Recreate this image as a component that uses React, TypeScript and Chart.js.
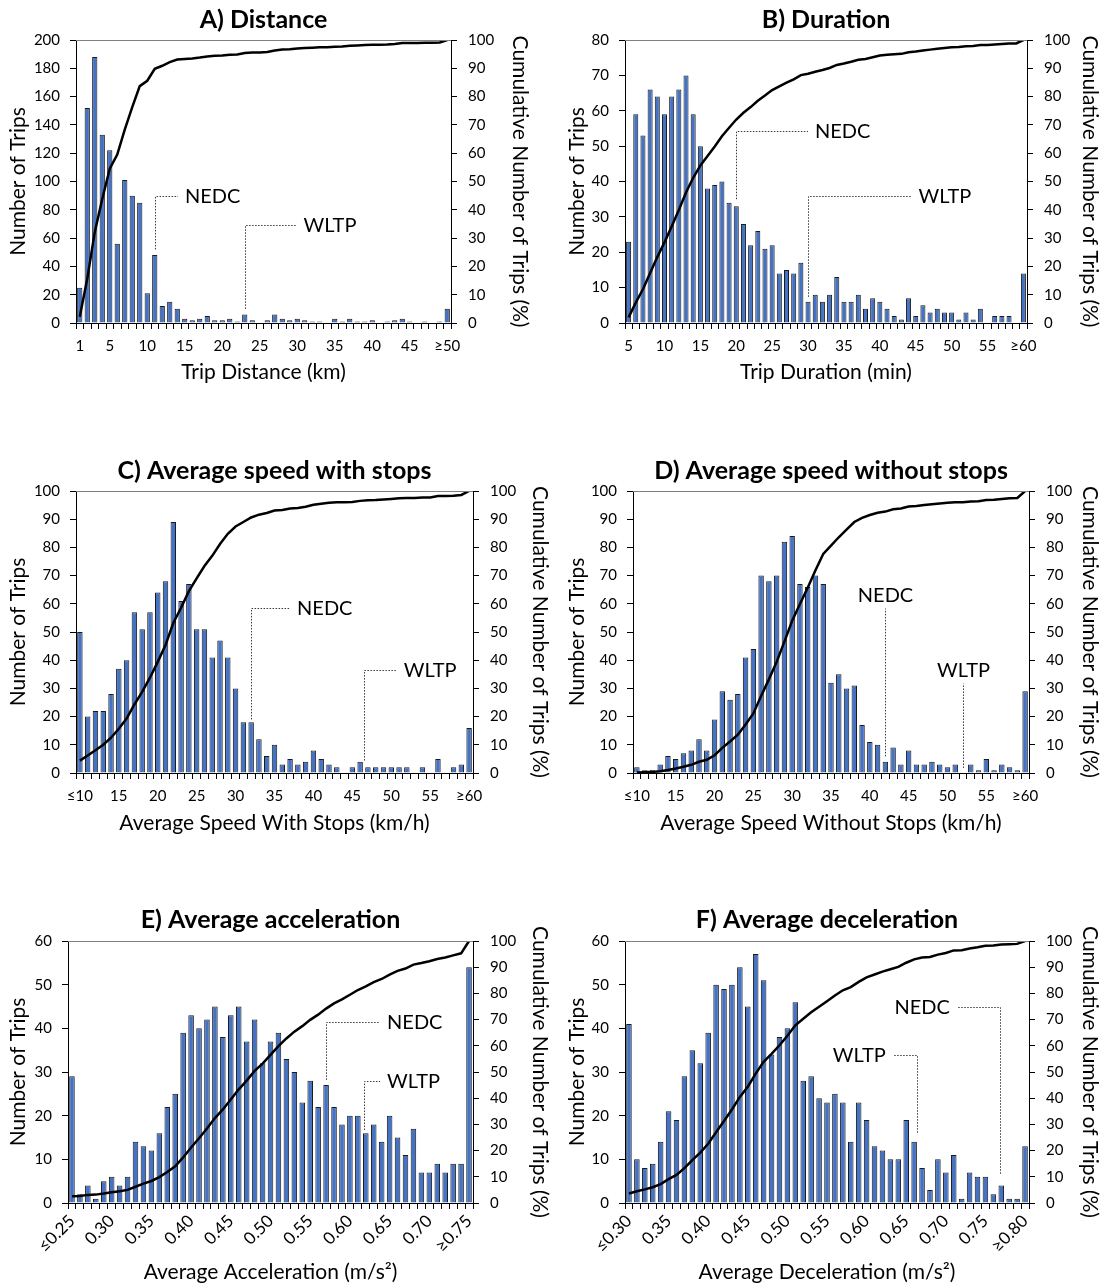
import { useEffect, useRef } from 'react';
import { Chart, registerables } from 'chart.js';

Chart.register(...registerables);

const FONT_FAMILY = 'Lato, "Noto Sans", "DejaVu Sans", sans-serif';
const TEXT_COLOR = '#000000';
const BAR_FILL = '#4472C4';
const BAR_EDGE = '#1a1a1a';
const LEADER_COLOR = '#3a3a3a';

// ---------- A) Distance ----------
const distanceCategories = ['1', '2', '3', '4', '5', '6', '7', '8', '9', '10', '11', '12', '13', '14', '15', '16', '17', '18', '19', '20', '21', '22', '23', '24', '25', '26', '27', '28', '29', '30', '31', '32', '33', '34', '35', '36', '37', '38', '39', '40', '41', '42', '43', '44', '45', '46', '47', '48', '49', '≥50'];
const distanceTickLabels = ['1', '5', '10', '15', '20', '25', '30', '35', '40', '45', '≥50'];
const distanceTrips = [25, 152, 188, 133, 122, 56, 101, 90, 85, 21, 48, 12, 15, 10, 3, 2, 3, 5, 2, 2, 3, 1, 6, 2, 0, 2, 6, 3, 2, 3, 2, 1, 1, 0, 3, 1, 3, 1, 1, 2, 0, 1, 2, 3, 1, 0, 1, 0, 1, 10];
const distanceCumulative = [2.2, 15.6, 32.1, 43.8, 54.5, 59.5, 68.3, 76.3, 83.7, 85.6, 89.8, 90.9, 92.2, 93.1, 93.3, 93.5, 93.8, 94.2, 94.4, 94.5, 94.8, 94.9, 95.4, 95.6, 95.6, 95.8, 96.3, 96.6, 96.7, 97.0, 97.2, 97.3, 97.4, 97.4, 97.6, 97.7, 98.0, 98.1, 98.2, 98.3, 98.3, 98.4, 98.6, 98.9, 98.9, 98.9, 99.0, 99.0, 99.1, 100];

// ---------- B) Duration ----------
const durationCategories = ['5', '6', '7', '8', '9', '10', '11', '12', '13', '14', '15', '16', '17', '18', '19', '20', '21', '22', '23', '24', '25', '26', '27', '28', '29', '30', '31', '32', '33', '34', '35', '36', '37', '38', '39', '40', '41', '42', '43', '44', '45', '46', '47', '48', '49', '50', '51', '52', '53', '54', '55', '56', '57', '58', '59', '≥60'];
const durationTickLabels = ['5', '10', '15', '20', '25', '30', '35', '40', '45', '50', '55', '≥60'];
const durationTrips = [23, 59, 53, 66, 64, 59, 64, 66, 70, 59, 50, 38, 39, 40, 34, 33, 28, 22, 26, 21, 22, 14, 15, 14, 17, 6, 8, 6, 8, 13, 6, 6, 8, 4, 7, 6, 4, 2, 1, 7, 2, 5, 3, 4, 3, 3, 1, 3, 1, 4, 0, 2, 2, 2, 0, 14];
const durationCumulative = [2.0, 7.2, 11.9, 17.7, 23.3, 28.5, 34.1, 39.9, 46.1, 51.3, 55.7, 59.0, 62.4, 66.0, 69.0, 71.9, 74.3, 76.3, 78.5, 80.4, 82.3, 83.6, 84.9, 86.1, 87.6, 88.1, 88.8, 89.4, 90.1, 91.2, 91.7, 92.3, 93.0, 93.3, 93.9, 94.5, 94.8, 95.0, 95.1, 95.7, 95.9, 96.3, 96.6, 96.9, 97.2, 97.4, 97.5, 97.8, 97.9, 98.2, 98.2, 98.4, 98.6, 98.8, 98.8, 100];

// ---------- C / D) Average speed ----------
const speedCategories = ['≤10', '11', '12', '13', '14', '15', '16', '17', '18', '19', '20', '21', '22', '23', '24', '25', '26', '27', '28', '29', '30', '31', '32', '33', '34', '35', '36', '37', '38', '39', '40', '41', '42', '43', '44', '45', '46', '47', '48', '49', '50', '51', '52', '53', '54', '55', '56', '57', '58', '59', '≥60'];
const speedTickLabels = ['≤10', '15', '20', '25', '30', '35', '40', '45', '50', '55', '≥60'];
const speedWithStopsTrips = [50, 20, 22, 22, 28, 37, 40, 57, 51, 57, 64, 68, 89, 61, 67, 51, 51, 41, 47, 41, 30, 18, 18, 12, 6, 10, 3, 5, 3, 4, 8, 5, 3, 2, 0, 2, 4, 2, 2, 2, 2, 2, 2, 0, 2, 0, 5, 0, 2, 3, 16];
const speedWithStopsCumulative = [4.4, 6.2, 8.1, 10.0, 12.5, 15.7, 19.3, 24.3, 28.8, 33.8, 39.4, 45.4, 53.2, 58.6, 64.5, 69.0, 73.4, 77.0, 81.2, 84.8, 87.4, 89.0, 90.6, 91.6, 92.2, 93.1, 93.3, 93.8, 94.0, 94.4, 95.1, 95.5, 95.8, 96.0, 96.0, 96.1, 96.5, 96.7, 96.8, 97.0, 97.2, 97.4, 97.5, 97.5, 97.7, 97.7, 98.2, 98.2, 98.3, 98.6, 100];
const speedWithoutStopsTrips = [2, 1, 1, 3, 6, 5, 7, 8, 12, 8, 19, 29, 26, 28, 41, 44, 70, 68, 70, 82, 84, 67, 66, 70, 67, 32, 35, 30, 31, 17, 11, 10, 4, 9, 3, 8, 3, 3, 4, 3, 2, 3, 0, 3, 1, 5, 1, 3, 2, 1, 29];
const speedWithoutStopsCumulative = [0.2, 0.3, 0.4, 0.6, 1.1, 1.6, 2.2, 2.9, 4.0, 4.7, 6.3, 8.9, 11.2, 13.6, 17.2, 21.1, 27.3, 33.2, 39.4, 46.6, 54.0, 59.9, 65.7, 71.9, 77.7, 80.6, 83.6, 86.3, 89.0, 90.5, 91.5, 92.3, 92.7, 93.5, 93.8, 94.5, 94.7, 95.0, 95.3, 95.6, 95.8, 96.0, 96.0, 96.3, 96.4, 96.8, 96.9, 97.2, 97.4, 97.5, 100];

// ---------- E) Average acceleration ----------
const accelerationCategories = ['≤0.25', '0.26', '0.27', '0.28', '0.29', '0.30', '0.31', '0.32', '0.33', '0.34', '0.35', '0.36', '0.37', '0.38', '0.39', '0.40', '0.41', '0.42', '0.43', '0.44', '0.45', '0.46', '0.47', '0.48', '0.49', '0.50', '0.51', '0.52', '0.53', '0.54', '0.55', '0.56', '0.57', '0.58', '0.59', '0.60', '0.61', '0.62', '0.63', '0.64', '0.65', '0.66', '0.67', '0.68', '0.69', '0.70', '0.71', '0.72', '0.73', '0.74', '≥0.75'];
const accelerationTickLabels = ['≤0.25', '0.30', '0.35', '0.40', '0.45', '0.50', '0.55', '0.60', '0.65', '0.70', '≥0.75'];
const accelerationTrips = [29, 2, 4, 1, 5, 6, 4, 6, 14, 13, 12, 16, 22, 25, 39, 43, 40, 42, 45, 38, 43, 45, 37, 42, 32, 37, 39, 33, 30, 23, 28, 22, 27, 22, 18, 20, 20, 16, 18, 14, 20, 15, 11, 17, 7, 7, 9, 7, 9, 9, 54];
const accelerationCumulative = [2.6, 2.7, 3.1, 3.2, 3.6, 4.1, 4.5, 5.0, 6.2, 7.4, 8.4, 9.9, 11.8, 14.0, 17.4, 21.2, 24.7, 28.4, 32.4, 35.7, 39.5, 43.4, 46.7, 50.4, 53.2, 56.5, 59.9, 62.8, 65.4, 67.5, 69.9, 71.9, 74.2, 76.2, 77.7, 79.5, 81.3, 82.7, 84.3, 85.5, 87.2, 88.6, 89.5, 91.0, 91.6, 92.3, 93.1, 93.7, 94.5, 95.3, 100];

// ---------- F) Average deceleration ----------
const decelerationCategories = ['≤0.30', '0.31', '0.32', '0.33', '0.34', '0.35', '0.36', '0.37', '0.38', '0.39', '0.40', '0.41', '0.42', '0.43', '0.44', '0.45', '0.46', '0.47', '0.48', '0.49', '0.50', '0.51', '0.52', '0.53', '0.54', '0.55', '0.56', '0.57', '0.58', '0.59', '0.60', '0.61', '0.62', '0.63', '0.64', '0.65', '0.66', '0.67', '0.68', '0.69', '0.70', '0.71', '0.72', '0.73', '0.74', '0.75', '0.76', '0.77', '0.78', '0.79', '≥0.80'];
const decelerationTickLabels = ['≤0.30', '0.35', '0.40', '0.45', '0.50', '0.55', '0.60', '0.65', '0.70', '0.75', '≥0.80'];
const decelerationTrips = [41, 10, 8, 9, 14, 21, 19, 29, 35, 32, 39, 50, 49, 50, 54, 45, 57, 51, 34, 38, 40, 46, 28, 29, 24, 23, 25, 23, 14, 23, 19, 13, 12, 10, 10, 19, 14, 8, 3, 10, 7, 11, 1, 7, 6, 6, 2, 4, 1, 1, 13];
const decelerationCumulative = [3.6, 4.5, 5.2, 6.0, 7.2, 9.1, 10.7, 13.3, 16.4, 19.2, 22.6, 27.0, 31.3, 35.7, 40.5, 44.4, 49.4, 53.9, 56.9, 60.2, 63.8, 67.8, 70.3, 72.8, 74.9, 77.0, 79.2, 81.2, 82.4, 84.4, 86.1, 87.2, 88.3, 89.2, 90.1, 91.7, 93.0, 93.7, 93.9, 94.8, 95.4, 96.4, 96.5, 97.1, 97.6, 98.2, 98.3, 98.7, 98.8, 98.9, 100];

// Driving-cycle reference marks: x in category index units, y in trip counts
type Side = 'right' | 'left' | 'above';
interface CycleMark {
  text: string;
  x: number;
  y0: number;
  y1: number;
  x1?: number;
  side: Side;
}

interface PanelSpec {
  key: string;
  left: number;
  top: number;
  width: number;
  height: number;
  area: { l: number; r: number; t: number; b: number };
  title: string;
  titleY: number;
  categories: string[];
  tickLabels: string[];
  trips: number[];
  cumulative: number[];
  yMax: number;
  yStep: number;
  yLabelStep: number;
  xTitle: string;
  leftTitleX: number;
  rightTitleGap: number;
  xTitleGap: number;
  rotated: boolean;
  marks: CycleMark[];
}

const panels: PanelSpec[] = [
  {
    key: 'A', left: 0, top: 0, width: 552, height: 440,
    area: { l: 76, r: 451, t: 40, b: 323 },
    title: 'A) Distance', titleY: 20,
    categories: distanceCategories, tickLabels: distanceTickLabels,
    trips: distanceTrips, cumulative: distanceCumulative,
    yMax: 200, yStep: 10, yLabelStep: 20,
    xTitle: 'Trip Distance (km)', leftTitleX: 18, rightTitleGap: 32, xTitleGap: 68, rotated: false,
    marks: [
      { text: 'NEDC', x: 10, y0: 52, y1: 90, x1: 13.1, side: 'right' },
      { text: 'WLTP', x: 22, y0: 10, y1: 69, x1: 28.9, side: 'right' },
    ],
  },
  {
    key: 'B', left: 552, top: 0, width: 552, height: 440,
    area: { l: 73, r: 475, t: 40, b: 323 },
    title: 'B) Duration', titleY: 20,
    categories: durationCategories, tickLabels: durationTickLabels,
    trips: durationTrips, cumulative: durationCumulative,
    yMax: 80, yStep: 10, yLabelStep: 10,
    xTitle: 'Trip Duration (min)', leftTitleX: 25, rightTitleGap: 14, xTitleGap: 68, rotated: false,
    marks: [
      { text: 'NEDC', x: 15, y0: 35, y1: 54.4, x1: 25, side: 'right' },
      { text: 'WLTP', x: 25, y0: 7.4, y1: 35.9, x1: 39.4, side: 'right' },
    ],
  },
  {
    key: 'C', left: 0, top: 440, width: 552, height: 450,
    area: { l: 76, r: 473, t: 51, b: 333 },
    title: 'C) Average speed with stops', titleY: 31,
    categories: speedCategories, tickLabels: speedTickLabels,
    trips: speedWithStopsTrips, cumulative: speedWithStopsCumulative,
    yMax: 100, yStep: 10, yLabelStep: 10,
    xTitle: 'Average Speed With Stops (km/h)', leftTitleX: 18, rightTitleGap: 12, xTitleGap: 67, rotated: false,
    marks: [
      { text: 'NEDC', x: 22, y0: 19, y1: 58.4, x1: 27, side: 'right' },
      { text: 'WLTP', x: 36.5, y0: 4.4, y1: 36.7, x1: 40.7, side: 'right' },
    ],
  },
  {
    key: 'D', left: 552, top: 440, width: 552, height: 450,
    area: { l: 81, r: 477, t: 51, b: 333 },
    title: 'D) Average speed without stops', titleY: 31,
    categories: speedCategories, tickLabels: speedTickLabels,
    trips: speedWithoutStopsTrips, cumulative: speedWithoutStopsCumulative,
    yMax: 100, yStep: 10, yLabelStep: 10,
    xTitle: 'Average Speed Without Stops (km/h)', leftTitleX: 25, rightTitleGap: 14, xTitleGap: 67, rotated: false,
    marks: [
      { text: 'NEDC', x: 32, y0: 5.9, y1: 58.4, side: 'above' },
      { text: 'WLTP', x: 42, y0: 1.8, y1: 31.9, side: 'above' },
    ],
  },
  {
    key: 'E', left: 0, top: 890, width: 552, height: 397,
    area: { l: 68, r: 473, t: 51, b: 313 },
    title: 'E) Average acceleration', titleY: 30,
    categories: accelerationCategories, tickLabels: accelerationTickLabels,
    trips: accelerationTrips, cumulative: accelerationCumulative,
    yMax: 60, yStep: 10, yLabelStep: 10,
    xTitle: 'Average Acceleration (m/s²)', leftTitleX: 18, rightTitleGap: 12, xTitleGap: 15, rotated: true,
    marks: [
      { text: 'NEDC', x: 32, y0: 28.2, y1: 41.4, x1: 38.8, side: 'right' },
      { text: 'WLTP', x: 36.8, y0: 16.7, y1: 28, x1: 38.8, side: 'right' },
    ],
  },
  {
    key: 'F', left: 552, top: 890, width: 552, height: 397,
    area: { l: 73, r: 477, t: 51, b: 313 },
    title: 'F) Average deceleration', titleY: 30,
    categories: decelerationCategories, tickLabels: decelerationTickLabels,
    trips: decelerationTrips, cumulative: decelerationCumulative,
    yMax: 60, yStep: 10, yLabelStep: 10,
    xTitle: 'Average Deceleration (m/s²)', leftTitleX: 25, rightTitleGap: 14, xTitleGap: 15, rotated: true,
    marks: [
      { text: 'WLTP', x: 36.3, y0: 16.1, y1: 33.9, x1: 33.3, side: 'left' },
      { text: 'NEDC', x: 46.9, y0: 6.7, y1: 44.9, x1: 41.4, side: 'left' },
    ],
  },
];

const TICK_FONT = { family: FONT_FAMILY, size: 15 };
const ROTATED_TICK_FONT = { family: FONT_FAMILY, size: 17 };
const AXIS_TITLE_SIZE = 21;
const AXIS_TITLE_FONT = { family: FONT_FAMILY, size: AXIS_TITLE_SIZE, lineHeight: 1.2 };
const MARK_FONT = `20px ${FONT_FAMILY}`;
const PANEL_TITLE_FONT = `bold 25px ${FONT_FAMILY}`;

// Frame top edge, cycle leader lines with their labels, and the panel heading
const panelDecor = {
  id: 'panelDecor',
  afterDatasetsDraw(chart: any, _args: any, opts: any) {
    const { ctx, chartArea, scales } = chart;
    const xs = scales.x;
    const ys = scales.y;
    ctx.save();

    ctx.strokeStyle = '#808080';
    ctx.lineWidth = 1;
    ctx.beginPath();
    ctx.moveTo(chartArea.left, chartArea.top + 0.5);
    ctx.lineTo(chartArea.right, chartArea.top + 0.5);
    ctx.stroke();

    ctx.font = MARK_FONT;
    ctx.fillStyle = TEXT_COLOR;
    (opts.marks as CycleMark[]).forEach((m) => {
      const px = Math.round(xs.getPixelForValue(m.x)) + 0.5;
      const py0 = ys.getPixelForValue(m.y0);
      const py1 = Math.round(ys.getPixelForValue(m.y1)) + 0.5;
      ctx.strokeStyle = LEADER_COLOR;
      ctx.lineWidth = 1;
      ctx.setLineDash([1.5, 1.5]);
      ctx.beginPath();
      ctx.moveTo(px, py0);
      ctx.lineTo(px, py1);
      let ex = px;
      if (m.side !== 'above' && m.x1 !== undefined) {
        ex = xs.getPixelForValue(m.x1);
        ctx.lineTo(ex, py1);
      }
      ctx.stroke();
      ctx.setLineDash([]);
      if (m.side === 'right') {
        ctx.textAlign = 'left';
        ctx.textBaseline = 'middle';
        ctx.fillText(m.text, ex + 7, py1);
      } else if (m.side === 'left') {
        ctx.textAlign = 'right';
        ctx.textBaseline = 'middle';
        ctx.fillText(m.text, ex - 7, py1);
      } else {
        ctx.textAlign = 'center';
        ctx.textBaseline = 'bottom';
        ctx.fillText(m.text, px, py1 - 3);
      }
    });

    ctx.font = PANEL_TITLE_FONT;
    ctx.textAlign = 'center';
    ctx.textBaseline = 'middle';
    ctx.fillStyle = TEXT_COLOR;
    ctx.fillText(opts.title, (chartArea.left + chartArea.right) / 2, opts.titleY);
    ctx.restore();
  },
};

function HistogramPanel({ spec }: { spec: PanelSpec }) {
  const canvasRef = useRef<HTMLCanvasElement | null>(null);

  useEffect(() => {
    const canvas = canvasRef.current;
    if (!canvas) return;
    const { area, width, height } = spec;
    const rotation = spec.rotated ? 45 : 0;

    const chart = new Chart(canvas, {
      type: 'bar',
      data: {
        labels: spec.categories,
        datasets: [
          {
            type: 'line',
            label: 'Cumulative Number of Trips (%)',
            data: spec.cumulative,
            yAxisID: 'y1',
            borderColor: '#000000',
            borderWidth: 2.5,
            pointRadius: 0,
            tension: 0,
            fill: false,
            order: 0,
          },
          {
            type: 'bar',
            label: 'Number of Trips',
            data: spec.trips,
            yAxisID: 'y',
            backgroundColor: BAR_FILL,
            borderColor: BAR_EDGE,
            borderWidth: 1,
            categoryPercentage: 1,
            barPercentage: 0.7,
            order: 1,
          },
        ] as any,
      },
      options: {
        responsive: false,
        maintainAspectRatio: false,
        animation: false,
        events: [],
        layout: { padding: { top: area.t, left: 0, right: 0, bottom: 0 } },
        plugins: {
          legend: { display: false },
          tooltip: { enabled: false },
          title: { display: false },
          panelDecor: { marks: spec.marks, title: spec.title, titleY: spec.titleY },
        } as any,
        scales: {
          x: {
            type: 'category',
            offset: true,
            grid: {
              offset: true,
              drawOnChartArea: false,
              drawTicks: true,
              tickLength: 6,
              color: '#000000',
              lineWidth: 1,
            },
            border: { display: true, color: '#000000', width: 1 },
            ticks: {
              autoSkip: false,
              maxRotation: rotation,
              minRotation: rotation,
              padding: spec.rotated ? 2 : 8,
              color: TEXT_COLOR,
              font: spec.rotated ? ROTATED_TICK_FONT : TICK_FONT,
              callback: (_v: any, i: number) => {
                const lab = spec.categories[i];
                return spec.tickLabels.includes(lab) ? lab : '';
              },
            },
            title: {
              display: true,
              text: spec.xTitle,
              color: TEXT_COLOR,
              font: AXIS_TITLE_FONT,
              padding: { top: 0, bottom: spec.xTitleGap - AXIS_TITLE_SIZE * 0.6 },
            },
            afterFit: (s: any) => {
              s.height = height - area.b;
            },
          },
          y: {
            position: 'left',
            min: 0,
            max: spec.yMax,
            grid: { drawOnChartArea: false, drawTicks: true, tickLength: 6, color: '#000000' },
            border: { display: true, color: '#000000', width: 1 },
            ticks: {
              stepSize: spec.yStep,
              padding: 10,
              color: TEXT_COLOR,
              font: TICK_FONT,
              callback: (v: any) => (Number(v) % spec.yLabelStep === 0 ? String(v) : ''),
            },
            title: {
              display: true,
              text: 'Number of Trips',
              color: TEXT_COLOR,
              font: AXIS_TITLE_FONT,
              padding: { top: spec.leftTitleX - AXIS_TITLE_SIZE * 0.6, bottom: 0 },
            },
            afterFit: (s: any) => {
              s.width = area.l;
            },
          },
          y1: {
            position: 'right',
            min: 0,
            max: 100,
            grid: { drawOnChartArea: false, drawTicks: true, tickLength: 6, color: '#000000' },
            border: { display: true, color: '#000000', width: 1 },
            ticks: {
              stepSize: 10,
              padding: 11,
              color: TEXT_COLOR,
              font: TICK_FONT,
            },
            title: {
              display: true,
              text: 'Cumulative Number of Trips (%)',
              color: TEXT_COLOR,
              font: AXIS_TITLE_FONT,
              padding: { top: Math.max(0, spec.rightTitleGap - AXIS_TITLE_SIZE * 0.6), bottom: 0 },
            },
            afterFit: (s: any) => {
              s.width = width - area.r;
            },
          },
        } as any,
      },
      plugins: [panelDecor],
    });

    return () => chart.destroy();
  }, [spec]);

  return (
    <canvas
      ref={canvasRef}
      width={spec.width}
      height={spec.height}
      style={{ position: 'absolute', left: spec.left, top: spec.top, width: spec.width, height: spec.height }}
    />
  );
}

export default function App() {
  return (
    <div
      style={{
        position: 'absolute',
        left: 0,
        top: 0,
        width: 1104,
        height: 1287,
        background: '#ffffff',
        overflow: 'hidden',
      }}
    >
      {panels.map((p) => (
        <HistogramPanel key={p.key} spec={p} />
      ))}
    </div>
  );
}
